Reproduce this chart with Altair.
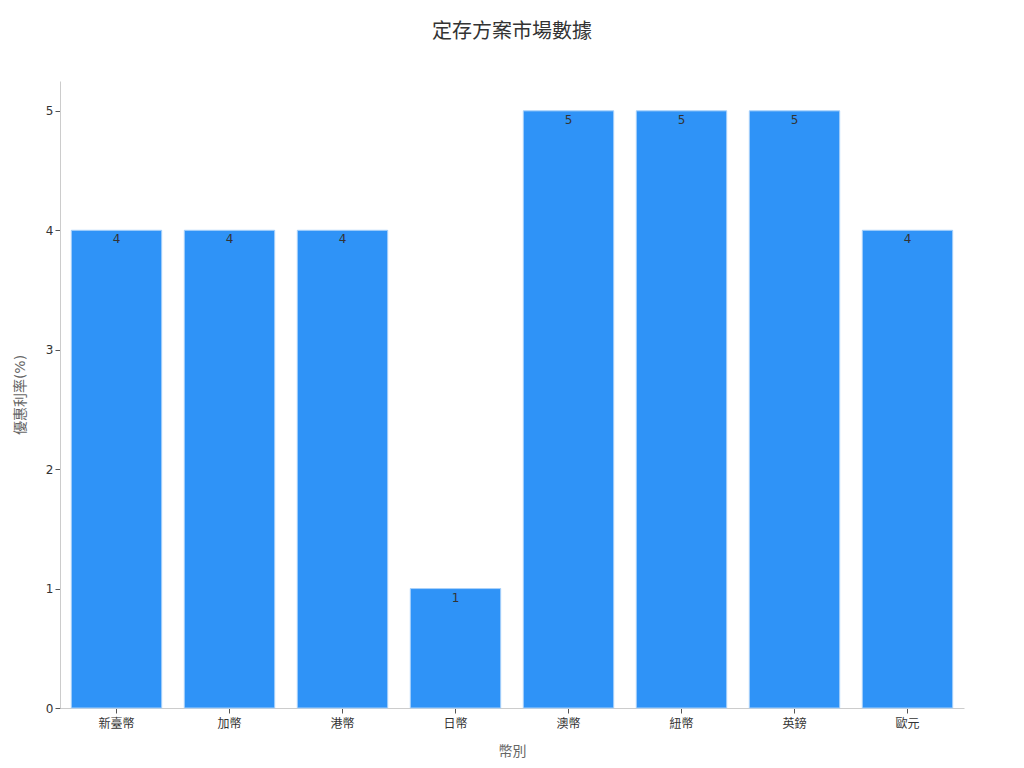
import altair as alt
import pandas as pd

# ---------------------------------------------------------------- data
CURRENCIES = ["新臺幣", "加幣", "港幣", "日幣", "澳幣", "紐幣", "英鎊", "歐元"]
RATES = [4, 4, 4, 1, 5, 5, 5, 4]

# ---------------------------------------------------------------- style
FONT = "DejaVu Sans, Noto Sans CJK TC, sans-serif"
BAR = "#2f93f7"
BAR_EDGE = "#a9d1fa"
INK = "#333333"
MUTED = "#666666"
AXIS_LINE = "#cccccc"

df = pd.DataFrame({"currency": CURRENCIES, "rate": RATES})

x_enc = alt.X(
    "currency:N", sort=CURRENCIES, title="幣別",
    scale=alt.Scale(paddingInner=0.2, paddingOuter=0.1),
    axis=alt.Axis(labelAngle=0, labelColor=INK, labelFontSize=12,
                  titleColor=MUTED, titleFontSize=14, titleFontWeight="normal",
                  titlePadding=15, domainColor=AXIS_LINE, tickColor="#555555",
                  tickSize=5, labelPadding=5),
)
y_enc = alt.Y(
    "rate:Q", title="優惠利率(%)",
    scale=alt.Scale(domain=[0, 5.25], nice=False),
    axis=alt.Axis(values=[0, 1, 2, 3, 4, 5], format="d", grid=False,
                  labelColor=INK, labelFontSize=12, titleColor=MUTED,
                  titleFontSize=14, titleFontWeight="normal", titlePadding=18,
                  domainColor=AXIS_LINE, tickColor="#555555", tickSize=5),
)

base = alt.Chart(df)
bars = base.mark_bar(color=BAR, stroke=BAR_EDGE, strokeWidth=1).encode(
    x=x_enc, y=y_enc, tooltip=["currency", "rate"]
)
labels = base.mark_text(baseline="top", dy=4, fontSize=12, color=INK, font=FONT).encode(
    x=alt.X("currency:N", sort=CURRENCIES),
    y=alt.Y("rate:Q"),
    text=alt.Text("rate:Q"),
)

chart = (
    (bars + labels)
    .properties(
        width=904,
        height=627,
        autosize=alt.AutoSizeParams(type="none"),
        padding={"left": 52, "top": 73, "right": 50, "bottom": 50},
        title=alt.Title("定存方案市場數據", fontSize=20, fontWeight="normal",
                        color=INK, font=FONT, offset=39),
    )
    .configure(font=FONT)
    .configure_view(stroke=None)
)

chart.save("out.html", embed_options={"renderer": "svg", "actions": False})
